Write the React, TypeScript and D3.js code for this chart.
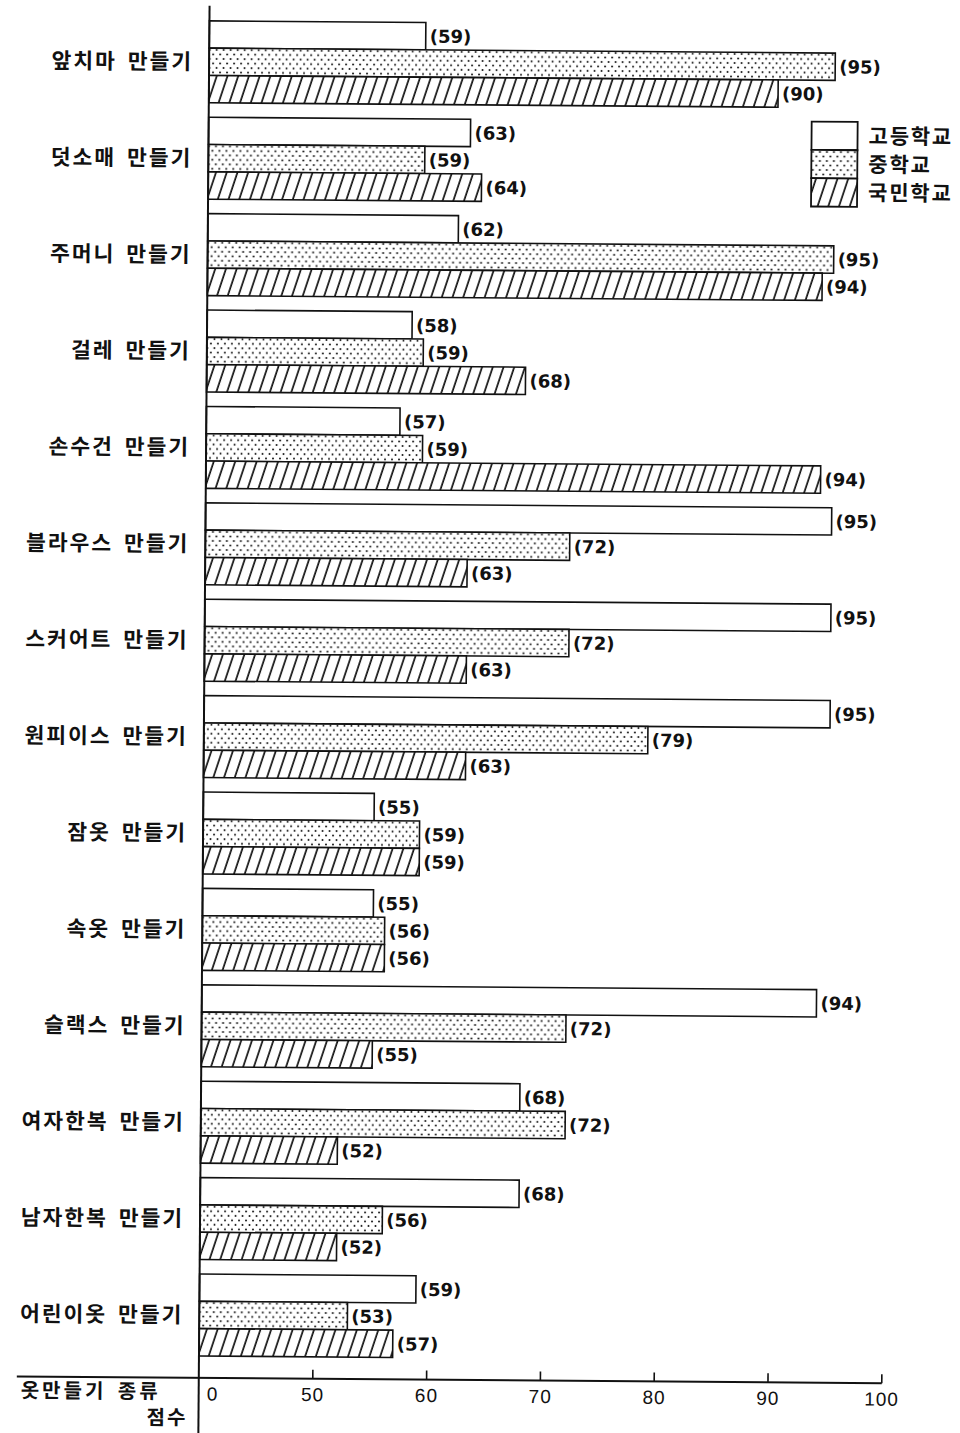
import React from 'react';
import * as d3 from 'd3';

const categories = [
  '앞치마 만들기',
  '덧소매 만들기',
  '주머니 만들기',
  '걸레 만들기',
  '손수건 만들기',
  '블라우스 만들기',
  '스커어트 만들기',
  '원피이스 만들기',
  '잠옷 만들기',
  '속옷 만들기',
  '슬랙스 만들기',
  '여자한복 만들기',
  '남자한복 만들기',
  '어린이옷 만들기',
];
const seriesNames = ['고등학교', '중학교', '국민학교'];
const highSchool = [59, 63, 62, 58, 57, 95, 95, 95, 55, 55, 94, 68, 68, 59];
const middleSchool = [95, 59, 95, 59, 59, 72, 72, 79, 59, 56, 72, 72, 56, 53];
const elementary = [90, 64, 94, 68, 94, 63, 63, 63, 59, 56, 55, 52, 52, 57];
const tickValues = [0, 50, 60, 70, 80, 90, 100];
const axisTitle = '옷만들기 종류';
const axisUnit = '점수';

const seriesValues = [highSchool, middleSchool, elementary];
const fills = ['#fff', 'url(#dots)', 'url(#hatch)'];

const korFont = '"Noto Sans CJK KR", sans-serif';
const numFont = '"DejaVu Sans", sans-serif';
const tickFont = '"Liberation Sans", Arial, sans-serif';

export default function App() {
  const W = 960;
  const H = 1433;
  const x = d3.scaleLinear().domain([0, 50, 100]).range([204, 318, 887]);
  const step = 96.4;
  const pad = 0.15;
  const y = d3
    .scaleBand<string>()
    .domain(categories)
    .range([23, 23 + step * (categories.length - pad)])
    .paddingInner(pad)
    .paddingOuter(0);
  const sub = d3.scaleBand<string>().domain(seriesNames).range([0, y.bandwidth()]);
  const axisY = 1380;
  const legendX = 807;
  const legendY = 119;
  const legendCell = 28.3;

  return (
    <svg
      width={W}
      height={H}
      viewBox={`0 0 ${W} ${H}`}
      style={{ position: 'absolute', left: 0, top: 0, display: 'block', background: '#fff' }}
    >
      <defs>
        <pattern id="dots" patternUnits="userSpaceOnUse" width={7} height={9}>
          <rect width={7} height={9} fill="#fff" />
          <circle cx={1.5} cy={2} r={1} fill="#111" />
          <circle cx={5} cy={6.5} r={1} fill="#111" />
        </pattern>
        <pattern
          id="hatch"
          patternUnits="userSpaceOnUse"
          width={10.7}
          height={20}
          patternTransform="skewX(-18)"
        >
          <rect width={10.7} height={20} fill="#fff" />
          <line x1={5} y1={0} x2={5} y2={20} stroke="#111" strokeWidth={1.8} />
        </pattern>
      </defs>
      <rect width={W} height={H} fill="#fff" />
      <g transform="rotate(0.45 480 716)">
        {/* bars */}
        {categories.map((cat, i) => (
          <g key={cat} transform={`translate(0,${y(cat)})`}>
            {seriesNames.map((s, j) => {
              const v = seriesValues[j][i];
              const by = sub(s)!;
              const bh = sub.bandwidth();
              return (
                <g key={s}>
                  <rect
                    x={x(0)}
                    y={by}
                    width={x(v) - x(0)}
                    height={bh}
                    fill={fills[j]}
                    stroke="#111"
                    strokeWidth={1.6}
                  />
                  <text
                    x={x(v) + 4}
                    y={by + bh / 2}
                    dy="0.36em"
                    fontFamily={numFont}
                    fontWeight="bold"
                    fontSize={18}
                    fill="#111"
                  >
                    {`(${v})`}
                  </text>
                </g>
              );
            })}
            <text
              x={188}
              y={y.bandwidth() / 2}
              dy="0.36em"
              textAnchor="end"
              fontFamily={korFont}
              fontWeight="bold"
              fontSize={21.5}
              letterSpacing={2}
              wordSpacing={4}
              fill="#111"
            >
              {cat}
            </text>
          </g>
        ))}

        {/* vertical axis */}
        <line x1={x(0)} y1={8} x2={x(0)} y2={1445} stroke="#111" strokeWidth={2} />
        {/* horizontal axis */}
        <line x1={22} y1={axisY} x2={x(100)} y2={axisY} stroke="#111" strokeWidth={2} />
        {tickValues.map((t) => (
          <g key={t}>
            {t !== 0 && (
              <line x1={x(t)} y1={axisY} x2={x(t)} y2={axisY - 9} stroke="#111" strokeWidth={1.6} />
            )}
            <text
              x={t === 0 ? x(t) + 14 : x(t)}
              y={axisY + 22.5}
              textAnchor="middle"
              fontFamily={tickFont}
              fontSize={19}
              letterSpacing={1}
              fill="#111"
            >
              {t}
            </text>
          </g>
        ))}
        <text
          x={x(0) - 38}
          y={axisY + 21}
          textAnchor="end"
          fontFamily={korFont}
          fontWeight="bold"
          fontSize={20}
          letterSpacing={3}
          wordSpacing={4}
          fill="#111"
        >
          {axisTitle}
        </text>
        <text
          x={x(0) - 11}
          y={axisY + 47}
          textAnchor="end"
          fontFamily={korFont}
          fontWeight="bold"
          fontSize={20}
          letterSpacing={2}
          fill="#111"
        >
          {axisUnit}
        </text>

        {/* legend */}
        {seriesNames.map((s, j) => (
          <g key={s} transform={`translate(${legendX},${legendY + j * legendCell})`}>
            <rect width={46} height={legendCell} fill={fills[j]} stroke="#111" strokeWidth={1.8} />
            <text
              x={57}
              y={legendCell / 2}
              dy="0.36em"
              fontFamily={korFont}
              fontWeight="bold"
              fontSize={21}
              letterSpacing={1.8}
              fill="#111"
            >
              {s}
            </text>
          </g>
        ))}
      </g>
    </svg>
  );
}
